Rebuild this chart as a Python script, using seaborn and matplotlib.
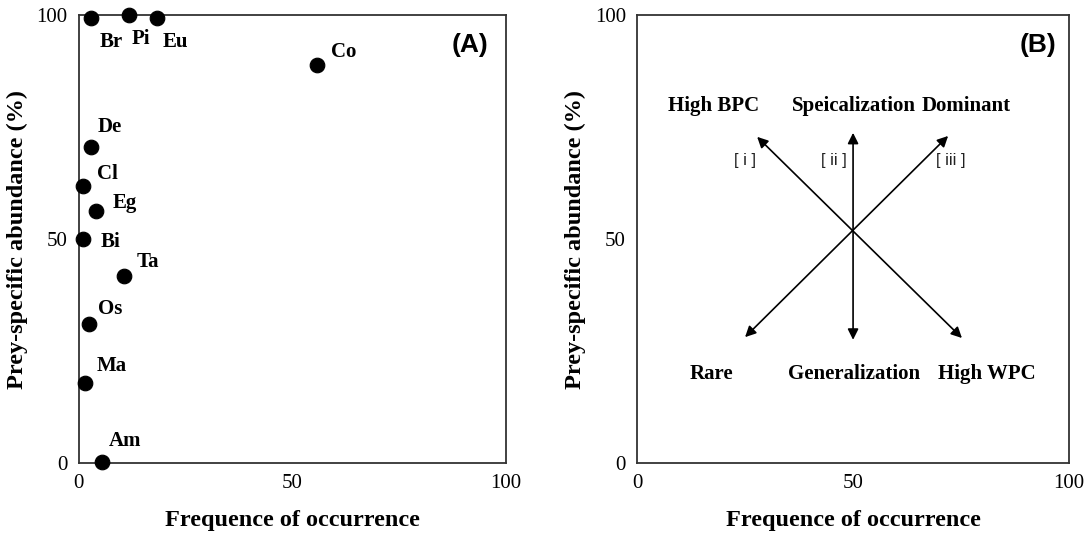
import matplotlib
matplotlib.use("Agg")
import matplotlib.pyplot as plt
import seaborn as sns
import pandas as pd

# panel A: prey items
prey = ["Br", "Pi", "Eu", "Co", "De", "Cl", "Eg", "Bi", "Ta", "Os", "Ma", "Am"]
freq = [2.9, 11.8, 18.4, 55.9, 2.9, 1.1, 4.1, 1.1, 10.7, 2.5, 1.5, 5.5]
abund = [99.3, 100.0, 99.3, 88.8, 70.5, 61.8, 56.3, 50.0, 41.7, 31.0, 17.9, 0.2]
# label offsets in pixels (dx, dy)
label_dx = [9, 3, 5, 14, 7, 14, 17, 17, 12, 9, 12, 7]
label_dy = [-24, -24, -24, 13, 20, 12, 8, -3, 14, 15, 17, 21]

# panel B: conceptual diagram, double-headed arrows through the centre
arrow_ends = [((25.0, 28.1), (72.0, 73.0)),
              ((50.0, 27.5), (50.0, 73.7)),
              ((75.2, 27.9), (27.8, 72.8))]
top_labels = ["High BPC", "Speicalization", "Dominant"]
bottom_labels = ["Rare", "Generalization", "High WPC"]
label_x_top = [17.8, 50.2, 76.2]
label_x_bottom = [17.1, 50.2, 81.0]
bracket_labels = ["[ i ]", "[ ii ]", "[ iii ]"]
bracket_x = [25.0, 45.6, 72.7]

ticks = [0, 50, 100]

sns.set_style("white")
plt.rcParams["font.family"] = ["Liberation Serif", "DejaVu Serif"]
plt.rcParams.update({"text.color": "black", "axes.labelcolor": "black",
                     "xtick.color": "black", "ytick.color": "black"})

fig = plt.figure(figsize=(10.89, 5.38), dpi=100)
axA = fig.add_axes([0.0721, 0.1394, 0.3925, 0.8327])
axB = fig.add_axes([0.585, 0.1394, 0.3967, 0.8327])

df = pd.DataFrame({"prey": prey, "freq": freq, "abund": abund})
sns.scatterplot(data=df, x="freq", y="abund", ax=axA, s=110, color="black",
                edgecolor="black", clip_on=False, zorder=3)
for name, x, y, dx, dy in zip(prey, freq, abund, label_dx, label_dy):
    axA.annotate(name, (x, y), xytext=(dx, dy), textcoords="offset pixels",
                 fontsize=15, fontweight="bold", va="center", ha="left")

axA.text(91.7, 93.3, "(A)", fontsize=19, fontweight="bold",
         family="Liberation Sans", ha="center", va="center")

for (x0, y0), (x1, y1) in arrow_ends:
    axB.annotate("", xy=(x1, y1), xytext=(x0, y0),
                 arrowprops=dict(arrowstyle="<|-|>", color="black", lw=1.2,
                                 mutation_scale=16, shrinkA=0, shrinkB=0))
for t, x in zip(top_labels, label_x_top):
    axB.text(x, 79.7, t, fontsize=15, fontweight="bold", ha="center", va="center")
for t, x in zip(bottom_labels, label_x_bottom):
    axB.text(x, 19.9, t, fontsize=15, fontweight="bold", ha="center", va="center")
for t, x in zip(bracket_labels, bracket_x):
    axB.text(x, 67.6, t, fontsize=12, family="Liberation Sans", color="#222222",
             ha="center", va="center")
axB.text(92.8, 93.3, "(B)", fontsize=19, fontweight="bold",
         family="Liberation Sans", ha="center", va="center")

for ax in (axA, axB):
    ax.set_xlim(0, 100)
    ax.set_ylim(0, 100)
    ax.set_xticks(ticks)
    ax.set_yticks(ticks)
    ax.tick_params(length=0, labelsize=15, pad=8)
    ax.set_xlabel("Frequence of occurrence", fontsize=17.5, fontweight="bold", labelpad=12)
    ax.set_ylabel("Prey-specific abundance (%)", fontsize=17.5, fontweight="bold", labelpad=6)
    for sp in ax.spines.values():
        sp.set_visible(True)
        sp.set_color("#333333")
        sp.set_linewidth(1.3)

fig.savefig("out.png", dpi=100)
